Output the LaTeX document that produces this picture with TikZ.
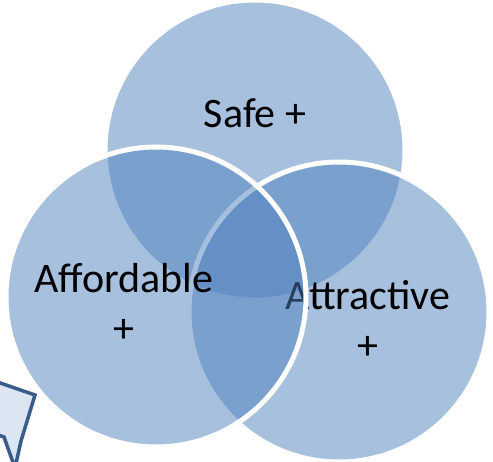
\documentclass[tikz,border=0pt]{standalone}
\usepackage{fontspec}
\setmainfont{Carlito}
\definecolor{venn}{RGB}{79,129,189}
\definecolor{noteline}{RGB}{56,93,138}
\definecolor{notefill}{RGB}{220,230,242}
\tikzset{set/.style={circle,minimum size=300pt,inner sep=0pt,outer sep=0pt,fill=venn,fill opacity=0.5,draw=white,line width=5pt},
	lbl/.style={font=\fontsize{42}{50}\selectfont,align=center,text=black,anchor=base}}
\begin{document}
\begin{tikzpicture}[x=1pt,y=-1pt]
		\useasboundingbox (0,0) rectangle (493,462);
		\clip (0,0) rectangle (493,462);
		% three sets, the left one on top
		\node[set] (safe) at (255,150) {};
		\node[lbl] (safetxt) at (255,128) {Safe +};
		\node[set] (attr) at (339,312) {};
		\node[lbl] (attrtxt) at (368,360) {Attractive\\+};
		\node[set] (aff) at (156,297) {};
		\node[lbl] (afftxt) at (124,343) {Affordable\\+};
		% callout in the corner
		\draw[line width=3.5pt,draw=noteline,fill=notefill,line join=miter] (-20,376) -- (35,395) -- (21,441) -- (15,468) -- (4,437) -- (-20,429) -- cycle;
		\end{tikzpicture}
\end{document}
